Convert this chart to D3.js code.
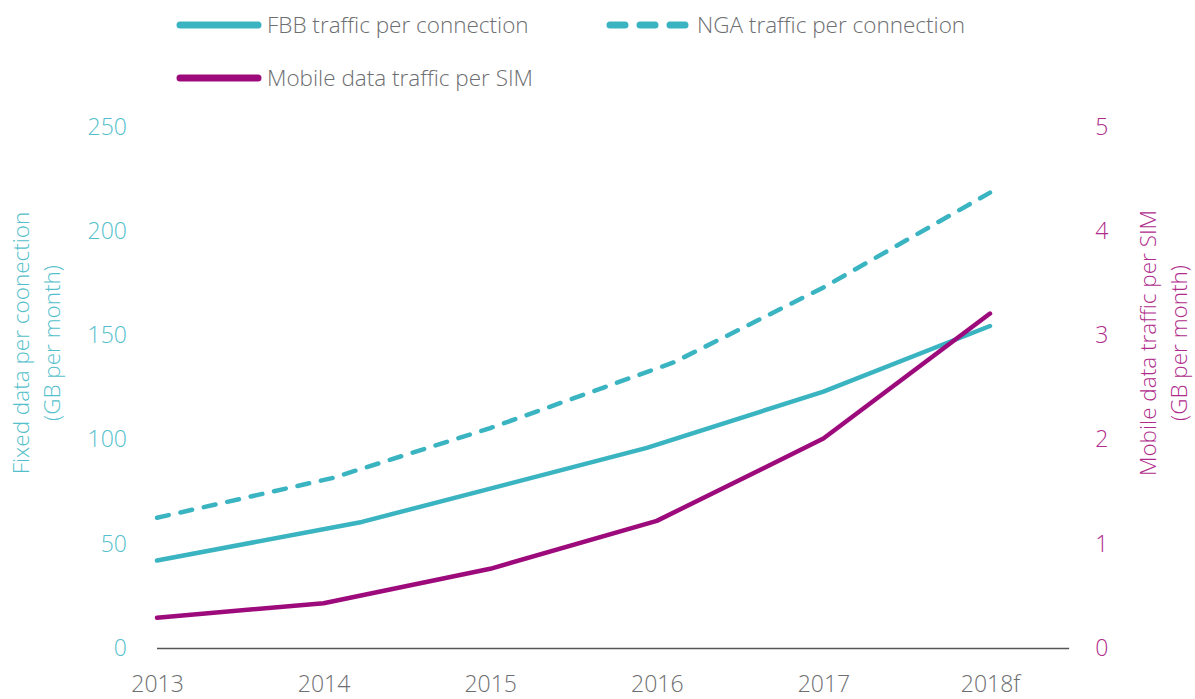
<!DOCTYPE html>
<html>
<head>
<meta charset="utf-8">
<script src="https://cdn.jsdelivr.net/npm/d3@7"></script>
<style>
  body { margin: 0; background: #fff; }
  svg { display: block; font-family: "Open Sans", sans-serif; font-weight: 300; }
</style>
</head>
<body>
<script>
// categories on the x axis
const years = ["2013", "2014", "2015", "2016", "2017", "2018f"];

// mobile data per SIM (GB/month), right axis, one value per year
const mobileValues = [0.29, 0.43, 0.76, 1.22, 2.01, 3.21];

// fixed lines: the bends in the picture are not on the year marks,
// so each point keeps its own position (in years from 2013)
const fbbPos = [0, 1.23, 2.94, 4, 5];
const fbbValues = [42, 60.5, 96, 123, 154.5];
const ngaPos = [0, 1.05, 2, 3.1, 4, 5];
const ngaValues = [62.5, 81.5, 105.5, 137, 173, 218.5];

const leftTicks = [0, 50, 100, 150, 200, 250];
const rightTicks = [0, 1, 2, 3, 4, 5];

const teal = "#3bb4c2";
const tealText = "#55bfcb";
const magenta = "#9d0a7b";
const magentaText = "#b02c8c";
const grey = "#6d6e71";

const width = 1195, height = 699;

const svg = d3.select("body").append("svg")
  .attr("width", width)
  .attr("height", height);

const x = d3.scaleLinear().domain([0, 5]).range([157, 990]);
const yLeft = d3.scaleLinear().domain([0, 250]).range([648, 127]);
const yRight = d3.scaleLinear().domain([0, 5]).range([648, 127]);
const step = x(1) - x(0);

const tickFont = (sel) => sel.style("font-size", "23px").style("font-family", "Open Sans").style("font-weight", 300);

// left axis
const gl = svg.append("g")
  .attr("transform", `translate(${x(0)},0)`)
  .call(d3.axisLeft(yLeft).tickValues(leftTicks).tickSize(0).tickPadding(30));
gl.select(".domain").remove();
gl.selectAll("text").attr("fill", tealText).call(tickFont);

// right axis
const rightX = x(5) + step * 0.475;
const gr = svg.append("g")
  .attr("transform", `translate(${rightX},0)`)
  .call(d3.axisRight(yRight).tickValues(rightTicks).tickFormat(d3.format("d")).tickSize(0).tickPadding(26));
gr.select(".domain").remove();
gr.selectAll("text").attr("fill", magentaText).call(tickFont);

// bottom axis
const gb = svg.append("g")
  .attr("transform", `translate(0,${yLeft(0)})`)
  .call(d3.axisBottom(x).tickValues(d3.range(years.length)).tickFormat(i => years[i]).tickSize(0).tickPadding(28));
gb.select(".domain").remove();
gb.selectAll("text").attr("fill", grey).call(tickFont);
svg.append("line")
  .attr("x1", x(0)).attr("x2", rightX)
  .attr("y1", yLeft(0) + 0.5).attr("y2", yLeft(0) + 0.5)
  .attr("stroke", "#55565a").attr("stroke-width", 1.3);

// axis titles
const leftTitle = svg.append("text")
  .attr("transform", `translate(21,343) rotate(-90)`)
  .attr("text-anchor", "middle")
  .attr("fill", tealText)
  .style("font-size", "22.5px");
leftTitle.append("tspan").attr("x", 0).attr("dy", "0.35em").text("Fixed data per coonection");
leftTitle.append("tspan").attr("x", 0).attr("dy", "1.38em").text("(GB per month)");

const rightTitle = svg.append("text")
  .attr("transform", `translate(1148,343) rotate(-90)`)
  .attr("text-anchor", "middle")
  .attr("fill", magentaText)
  .style("font-size", "22.5px");
rightTitle.append("tspan").attr("x", 0).attr("dy", "0.35em").text("Mobile data traffic per SIM");
rightTitle.append("tspan").attr("x", 0).attr("dy", "1.38em").text("(GB per month)");

// lines
const fbbData = fbbPos.map((p, i) => ({ p, v: fbbValues[i] }));
const ngaData = ngaPos.map((p, i) => ({ p, v: ngaValues[i] }));
const mobData = mobileValues.map((v, i) => ({ p: i, v }));

const leftLine = d3.line().x(d => x(d.p)).y(d => yLeft(d.v));
const rightLine = d3.line().x(d => x(d.p)).y(d => yRight(d.v));

svg.append("path")
  .datum(ngaData)
  .attr("d", leftLine)
  .attr("fill", "none")
  .attr("stroke", teal)
  .attr("stroke-width", 4.5)
  .attr("stroke-linecap", "round")
  .attr("stroke-dasharray", "12,12");

svg.append("path")
  .datum(fbbData)
  .attr("d", leftLine)
  .attr("fill", "none")
  .attr("stroke", teal)
  .attr("stroke-width", 4.5)
  .attr("stroke-linecap", "round")
  .attr("stroke-linejoin", "round");

svg.append("path")
  .datum(mobData)
  .attr("d", rightLine)
  .attr("fill", "none")
  .attr("stroke", magenta)
  .attr("stroke-width", 4.5)
  .attr("stroke-linecap", "round")
  .attr("stroke-linejoin", "round");

// legend
const legendItems = [
  { name: "FBB traffic per connection", color: teal, dash: null, x: 180, y: 25 },
  { name: "NGA traffic per connection", color: teal, dash: "15,15", x: 610, y: 25 },
  { name: "Mobile data traffic per SIM", color: magenta, dash: null, x: 180, y: 78 }
];
const lg = svg.selectAll(".legend").data(legendItems).enter().append("g")
  .attr("class", "legend")
  .attr("transform", d => `translate(${d.x},${d.y})`);
lg.append("line")
  .attr("x1", 0).attr("x2", 78)
  .attr("stroke", d => d.color)
  .attr("stroke-width", 7)
  .attr("stroke-linecap", "round")
  .attr("stroke-dasharray", d => d.dash);
lg.append("text")
  .attr("x", 87)
  .attr("dy", "0.35em")
  .attr("fill", grey)
  .style("font-size", "22.5px")
  .text(d => d.name);
</script>
</body>
</html>
